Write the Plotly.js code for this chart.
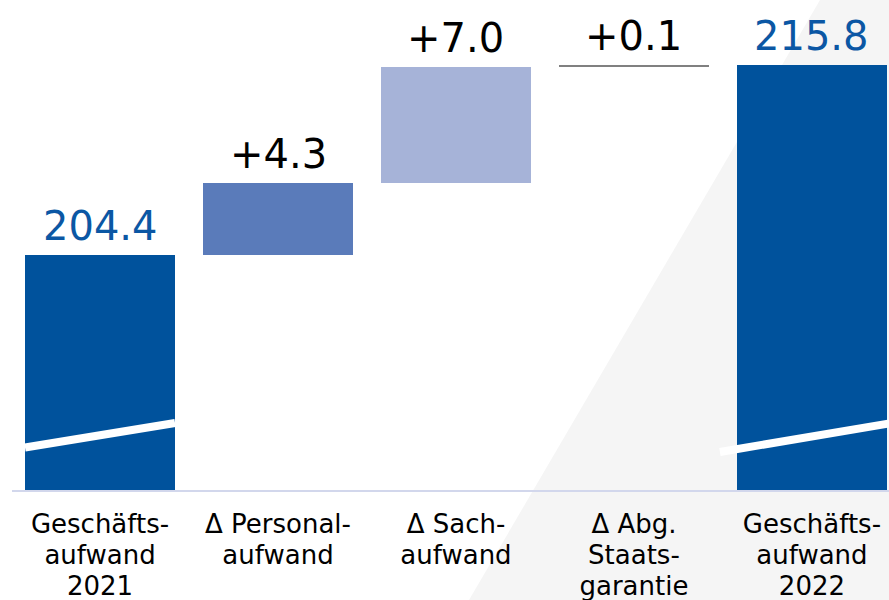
<!DOCTYPE html>
<html>
<head>
<meta charset="utf-8">
<script src="https://cdn.plot.ly/plotly-3.0.1.min.js"></script>
<style>html,body{margin:0;padding:0;background:#fff;}#chart{width:889px;height:600px;}</style>
</head>
<body>
<div id="chart"></div>
<script>
// ---- data ----
const categories = ["Geschäfts-<br>aufwand<br>2021", "Δ Personal-<br>aufwand", "Δ Sach-<br>aufwand", "Δ Abg.<br>Staats-<br>garantie", "Geschäfts-<br>aufwand<br>2022"];
const kinds = ["total", "delta", "delta", "delta", "total"];
const values = [204.4, 4.3, 7.0, 0.1, 215.8];
const labels = ["204.4", "+4.3", "+7.0", "+0.1", "215.8"];
const barColors = ["#00529C", "#5A7BBA", "#A6B3D8", "#808080", "#00529C"];
const labelColors = ["#0B57A4", "#000000", "#000000", "#000000", "#0B57A4"];

// ---- layout constants ----
const yMin = 190.1, yMax = 219.74;
const barWidth = 0.843;
const xIdx = categories.map((_, i) => i);

// compute bases / heights
let run = 0;
const bases = [], heights = [], tops = [];
values.forEach((v, i) => {
  if (kinds[i] === "total") { bases.push(0); heights.push(v); run = v; tops.push(v); }
  else { bases.push(run); heights.push(v); run = +(run + v).toFixed(4); tops.push(run); }
});

const trace = {
  type: "bar",
  x: xIdx,
  y: heights,
  base: bases,
  width: barWidth,
  marker: { color: barColors, line: { width: 0 } },
  hoverinfo: "skip"
};

const annotations = labels.map((t, i) => ({
  x: xIdx[i], y: tops[i], xref: "x", yref: "y",
  text: t, showarrow: false, yanchor: "bottom", xanchor: "center",
  yshift: 4,
  font: { family: "DejaVu Sans, Verdana, sans-serif", size: 40, color: labelColors[i] }
}));

const shapes = [
  // grey diagonal background panel
  { type: "path", xref: "paper", yref: "paper", layer: "below",
    path: "M " + (820/889) + " 1 L 1.1 1 L 1.1 " + (-108/492) + " L " + (469/889) + " " + (-108/492) + " Z",
    fillcolor: "#F5F5F5", line: { width: 0 } },
  // baseline
  { type: "line", xref: "paper", yref: "y", x0: 12/889, x1: 1, y0: yMin, y1: yMin,
    line: { color: "#D2D7EC", width: 4 }, layer: "above" },
  // axis break marks
  { type: "line", xref: "x", yref: "y", x0: xIdx[0] - barWidth/2, x1: xIdx[0] + barWidth/2, y0: 192.78, y1: 194.26,
    line: { color: "#FFFFFF", width: 8 }, layer: "above" },
  { type: "line", xref: "x", yref: "y", x0: xIdx[4] - 0.517, x1: xIdx[4] + barWidth/2 + 0.05, y0: 192.51, y1: 194.3,
    line: { color: "#FFFFFF", width: 8 }, layer: "above" }
];

const layout = {
  width: 889, height: 600,
  margin: { l: 0, r: 0, t: 0, b: 108, pad: 0 },
  paper_bgcolor: "#FFFFFF",
  plot_bgcolor: "rgba(0,0,0,0)",
  showlegend: false,
  bargap: 0,
  xaxis: {
    range: [-0.562, 4.433],
    tickvals: xIdx, ticktext: categories,
    showgrid: false, zeroline: false, showline: false, ticks: "",
    ticklabelstandoff: 14,
    tickfont: { family: "DejaVu Sans, Verdana, sans-serif", size: 26, color: "#000000" },
    fixedrange: true
  },
  yaxis: {
    range: [yMin, yMax], visible: false, showgrid: false, zeroline: false, fixedrange: true
  },
  annotations: annotations,
  shapes: shapes
};

Plotly.newPlot("chart", [trace], layout, { displayModeBar: false, staticPlot: true }).then(function (gd) {
  // tighten the line spacing of the multi-line category labels (31px per line)
  const scale = 31 / (26 * 1.3);
  gd.querySelectorAll(".xtick text tspan.line").forEach(function (ts) {
    const dy = ts.getAttribute("dy");
    if (dy && /em$/.test(dy)) {
      ts.setAttribute("dy", (parseFloat(dy) * scale) + "em");
    }
  });
});
</script>
</body>
</html>
